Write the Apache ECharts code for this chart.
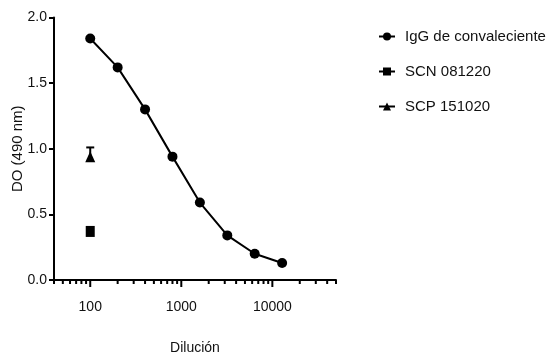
<!DOCTYPE html>
<html>
<head>
<meta charset="utf-8">
<script src="https://cdn.jsdelivr.net/npm/echarts@6/dist/echarts.min.js"></script>
<style>html,body{margin:0;padding:0;background:#fff}#c{width:554px;height:353px}</style>
</head>
<body>
<div id="c"></div>
<script>
// Data
const dilutions = [100, 200, 400, 800, 1600, 3200, 6400, 12800];
const igg = [1.84, 1.62, 1.30, 0.94, 0.59, 0.34, 0.20, 0.13];
const scnX = [100];
const scnY = [0.37];
const scpX = [100];
const scpY = [0.94];
const scpUpper = [1.01];
const majorTicks = [100, 1000, 10000];
const minorTicks = [40, 50, 60, 70, 80, 90, 200, 300, 400, 500, 600, 700, 800, 900,
  2000, 3000, 4000, 5000, 6000, 7000, 8000, 9000, 20000, 30000, 40000, 50000];

const FONT = "'Liberation Sans', Arial, sans-serif";
const chart = echarts.init(document.getElementById('c'), null, {renderer: 'canvas'});

const tickData = majorTicks.map(v => [v, 1]).concat(minorTicks.map(v => [v, 0]));

chart.setOption({
  animation: false,
  backgroundColor: '#fff',
  grid: {left: 54, right: 218, top: 17.5, bottom: 73, containLabel: false, outerBoundsMode: 'none'},
  legend: {
    orient: 'vertical', left: 373, top: 24, itemWidth: 16, itemHeight: 10, itemGap: 20,
    textStyle: {fontFamily: FONT, fontSize: 15, color: '#111', padding: [0, 0, 0, 5]},
    data: ['IgG de convaleciente', 'SCN 081220', 'SCP 151020']
  },
  xAxis: {
    type: 'log', logBase: 10, min: 40, max: 50000,
    name: 'Dilución', nameLocation: 'middle', nameGap: 61, nameMoveOverlap: false,
    nameTextStyle: {fontFamily: FONT, fontSize: 14, color: '#111'},
    axisLine: {show: true, lineStyle: {color: '#000', width: 2}},
    axisTick: {show: false},
    splitLine: {show: false},
    minorTick: {show: false},
    axisLabel: {
      fontFamily: FONT, fontSize: 14, color: '#111', margin: 20,
      formatter: v => (majorTicks.indexOf(Math.round(v)) >= 0 ? String(Math.round(v)) : '')
    }
  },
  yAxis: {
    type: 'value', min: 0, max: 2, interval: 0.5,
    name: 'DO (490 nm)', nameLocation: 'middle', nameGap: 29, nameMoveOverlap: false,
    nameTextStyle: {fontFamily: FONT, fontSize: 15, color: '#111'},
    axisLine: {show: true, lineStyle: {color: '#000', width: 2}},
    axisTick: {show: true, length: 5, lineStyle: {color: '#000', width: 2}},
    splitLine: {show: false},
    axisLabel: {fontFamily: FONT, fontSize: 14, color: '#111', margin: 7,
      formatter: v => v.toFixed(1)}
  },
  series: [
    {
      name: 'IgG de convaleciente', type: 'line',
      data: dilutions.map((d, i) => [d, igg[i]]),
      symbol: 'circle', symbolSize: 10,
      lineStyle: {color: '#000', width: 2}, itemStyle: {color: '#000'}
    },
    {
      name: 'SCN 081220', type: 'line',
      data: scnX.map((d, i) => [d, scnY[i]]),
      symbol: 'rect', symbolSize: [9, 11],
      lineStyle: {color: '#000', width: 2}, itemStyle: {color: '#000'}
    },
    {
      name: 'SCP 151020', type: 'line',
      data: scpX.map((d, i) => [d, scpY[i]]),
      symbol: 'triangle', symbolSize: [10, 11],
      lineStyle: {color: '#000', width: 2}, itemStyle: {color: '#000'}
    },
    {
      type: 'custom', silent: true, clip: false,
      data: scpX.map((d, i) => [d, scpY[i], scpUpper[i]]),
      renderItem: (params, api) => {
        const p0 = api.coord([api.value(0), api.value(1)]);
        const p1 = api.coord([api.value(0), api.value(2)]);
        return {type: 'group', children: [
          {type: 'line', shape: {x1: p0[0], y1: p0[1], x2: p1[0], y2: p1[1]}, style: {stroke: '#000', lineWidth: 2}},
          {type: 'line', shape: {x1: p1[0] - 4, y1: p1[1], x2: p1[0] + 4, y2: p1[1]}, style: {stroke: '#000', lineWidth: 2}}
        ]};
      }
    },
    {
      type: 'custom', silent: true, clip: false,
      data: tickData,
      renderItem: (params, api) => {
        const p = api.coord([api.value(0), 0]);
        const len = api.value(1) ? 7 : 4;
        return {type: 'line', shape: {x1: p[0], y1: p[1], x2: p[0], y2: p[1] + len},
          style: {stroke: '#000', lineWidth: 2}};
      }
    }
  ]
});
</script>
</body>
</html>
